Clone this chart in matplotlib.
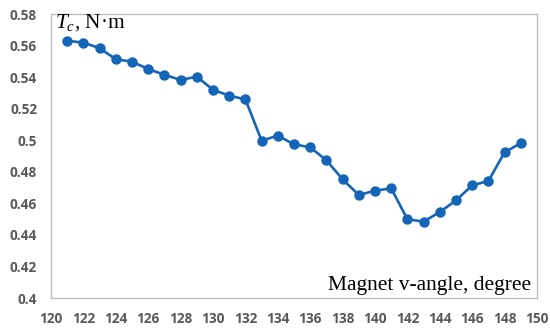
import matplotlib
matplotlib.use("Agg")
import matplotlib.pyplot as plt

# magnet v-angle (degree) and cogging torque Tc (N*m)
angles = list(range(121, 150))
torque = [0.5631, 0.5618, 0.5584, 0.5513, 0.5498, 0.5451, 0.5415, 0.5382,
          0.5403, 0.5320, 0.5282, 0.5259, 0.4997, 0.5029, 0.4974, 0.4955,
          0.4873, 0.4752, 0.4653, 0.4680, 0.4695, 0.4499, 0.4484, 0.4545,
          0.4619, 0.4714, 0.4742, 0.4923, 0.4982]

xticks = list(range(120, 151, 2))
yticks = [0.4, 0.42, 0.44, 0.46, 0.48, 0.5, 0.52, 0.54, 0.56, 0.58]
ylabels = ["0.4", "0.42", "0.44", "0.46", "0.48", "0.5", "0.52", "0.54", "0.56", "0.58"]

plt.rcParams["mathtext.fontset"] = "custom"
plt.rcParams["mathtext.rm"] = "Liberation Serif"
plt.rcParams["mathtext.it"] = "Liberation Serif:italic"

fig = plt.figure(figsize=(5.5, 3.32), dpi=100)
ax = fig.add_axes([51/550, 1 - 298/332, 486/550, 284/332])

blue = "#1464b8"
ax.plot(angles, torque, color=blue, lw=1.9, marker="o", ms=6.5, mec=blue, mfc=blue)

ax.set_xlim(120, 150)
ax.set_ylim(0.4, 0.58)
ax.set_xticks(xticks)
ax.set_xticklabels([str(t) for t in xticks])
ax.set_yticks(yticks)
ax.set_yticklabels(ylabels)
ax.tick_params(length=0, colors="#595959", labelsize=9.8)
ax.tick_params(axis="x", pad=10)
ax.tick_params(axis="y", pad=10)
for lab in ax.get_xticklabels() + ax.get_yticklabels():
    lab.set_fontfamily("Open Sans")
    lab.set_fontweight("bold")

for s in ax.spines.values():
    s.set_color("#bfbfbf")
    s.set_linewidth(1.0)

ax.text(0.008, 1.006, r"$T_c$, N·m", transform=ax.transAxes, ha="left", va="top",
        fontsize=15.5, family="Liberation Serif")
ax.text(0.988, 0.012, "Magnet v-angle, degree", transform=ax.transAxes, ha="right",
        va="bottom", fontsize=15.5, family="Liberation Serif")

fig.savefig("out.png", dpi=100)
